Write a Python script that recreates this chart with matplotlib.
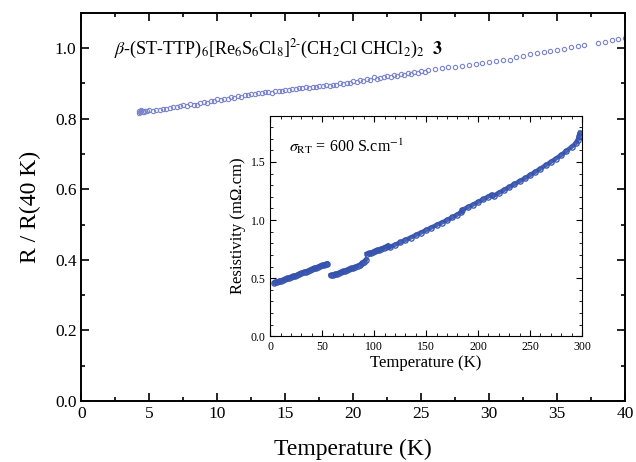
import matplotlib
matplotlib.use("Agg")
import matplotlib.pyplot as plt
from matplotlib.ticker import MultipleLocator

plt.rcParams['font.family'] = ['Liberation Serif', 'DejaVu Serif']
plt.rcParams['mathtext.fontset'] = 'stix'

# Main panel: R / R(40 K) vs T (first sweep)
main_T = [4.2, 4.3, 4.4, 4.5, 4.7, 5.0, 5.5, 6.0, 6.5, 7.0, 7.5, 8.0, 8.5, 9.0, 9.5,
          10.0, 10.5, 11.0, 11.5, 12.0, 12.5, 13.0, 13.5, 14.0, 14.5, 15.0, 15.5,
          16.0, 16.5, 17.0, 17.5, 18.0, 18.5, 19.0, 19.5, 20.0, 20.5, 21.0, 21.5,
          22.0, 22.5, 23.0, 23.5, 24.0, 24.5, 25.0, 25.5, 26.0, 26.5, 27.0, 27.5,
          28.0, 28.5, 29.0, 29.5, 30.0, 30.5, 31.0, 31.5, 32.0, 32.5, 33.0, 33.5,
          34.0, 34.5, 35.0, 35.5, 36.0, 36.5, 37.0, 38.0, 38.5, 39.0, 39.5, 40.0]
main_R = [0.822, 0.818, 0.824, 0.819, 0.823, 0.824, 0.826, 0.829, 0.831, 0.834, 0.838,
          0.841, 0.838, 0.847, 0.851, 0.855, 0.857, 0.862, 0.864, 0.867, 0.871, 0.873,
          0.876, 0.874, 0.880, 0.882, 0.884, 0.887, 0.889, 0.891, 0.893, 0.896, 0.897,
          0.900, 0.902, 0.906, 0.909, 0.914, 0.917, 0.916, 0.920, 0.923, 0.927, 0.929,
          0.932, 0.935, 0.937, 0.940, 0.943, 0.946, 0.948, 0.950, 0.953, 0.955, 0.959,
          0.962, 0.965, 0.968, 0.966, 0.976, 0.979, 0.984, 0.986, 0.990, 0.993, 0.996,
          0.999, 1.003, 1.006, 1.010, 1.016, 1.018, 1.022, 1.025, 1.030]
# Main panel: second, denser sweep at low temperature
main_T2 = [4.25, 4.35, 4.6, 4.8, 5.25, 5.75, 6.25, 6.75, 7.25, 7.75, 8.25, 8.75, 9.25,
           9.75, 10.25, 10.75, 11.25, 11.75, 12.25, 12.75, 13.25, 13.75, 14.25, 14.75,
           15.25, 15.75, 16.25, 16.75, 17.25, 17.75, 18.25, 18.75, 19.25, 19.75, 20.25,
           20.75, 21.25, 21.75, 22.25, 22.75, 23.25, 23.75, 24.25, 24.75, 25.25]
main_R2 = [0.817, 0.821, 0.820, 0.822, 0.823, 0.826, 0.828, 0.832, 0.835, 0.837, 0.840,
           0.844, 0.846, 0.850, 0.853, 0.856, 0.860, 0.863, 0.866, 0.869, 0.872, 0.877,
           0.878, 0.878, 0.881, 0.883, 0.886, 0.888, 0.890, 0.892, 0.894, 0.896, 0.899,
           0.901, 0.903, 0.907, 0.911, 0.913, 0.917, 0.919, 0.922, 0.925, 0.928, 0.931,
           0.933]

# Inset: resistivity vs T
ins_T = [4, 5, 6, 8, 10, 12, 14, 16, 18, 20, 22, 24, 26, 28, 30, 32, 34, 36, 38, 40,
         42, 44, 46, 48, 50, 52, 54, 55,
         58, 60, 62, 64, 66, 68, 70, 72, 74, 76, 78, 80, 82, 84, 86, 88, 90, 92,
         93, 95, 97, 99, 101, 103, 105, 107, 109, 111, 113,
         115, 120, 125, 130, 135, 140, 145, 150, 155, 160, 165, 170, 175, 180, 184,
         185, 190, 195, 200, 205, 210, 213, 215, 220, 225, 230, 235, 240, 245, 250,
         255, 260, 265, 270, 275, 280, 285, 290, 294, 296, 297, 298]
ins_rho = [0.462, 0.465, 0.468, 0.474, 0.480, 0.486, 0.492, 0.498, 0.505, 0.511, 0.517,
           0.523, 0.529, 0.536, 0.543, 0.550, 0.557, 0.564, 0.571, 0.578, 0.585, 0.592,
           0.598, 0.604, 0.610, 0.616, 0.621, 0.624,
           0.525, 0.530, 0.535, 0.540, 0.546, 0.552, 0.558, 0.564, 0.570, 0.577, 0.584,
           0.591, 0.598, 0.606, 0.614, 0.628, 0.642, 0.660,
           0.710, 0.715, 0.720, 0.726, 0.733, 0.740, 0.747, 0.755, 0.762, 0.770, 0.780,
           0.768, 0.788, 0.808, 0.829, 0.850, 0.871, 0.893, 0.914, 0.936, 0.958, 0.979,
           1.000, 1.024, 1.048, 1.070,
           1.090, 1.110, 1.133, 1.156, 1.180, 1.203, 1.220, 1.210, 1.235, 1.260, 1.285,
           1.310, 1.335, 1.360, 1.388, 1.415, 1.443, 1.472, 1.500, 1.530, 1.560, 1.595,
           1.630, 1.660, 1.690, 1.720, 1.750]
ins_segments = [(0, 28), (28, 46), (46, 57), (57, 72), (72, len(ins_T))]

main_color = '#7b84cc'
ins_color = '#3553ad'

fig = plt.figure(figsize=(6.36, 4.62), dpi=100)
ax = fig.add_axes([0.128, 0.132, 0.855, 0.840])
ax.plot(main_T, main_R, 'o', mfc='none', mec=main_color, ms=3.1, mew=0.8)
ax.plot(main_T2, main_R2, 'o', mfc='none', mec=main_color, ms=3.1, mew=0.8)
ax.set_xlim(0, 40)
ax.set_ylim(0, 1.1)
ax.xaxis.set_major_locator(MultipleLocator(5))
ax.xaxis.set_minor_locator(MultipleLocator(2.5))
ax.yaxis.set_major_locator(MultipleLocator(0.2))
ax.yaxis.set_minor_locator(MultipleLocator(0.1))
ax.tick_params(which='both', direction='in', top=True, right=True, labelsize=12.5, width=1.2)
ax.tick_params(which='major', length=6)
ax.tick_params(which='minor', length=3)
ax.yaxis.set_major_formatter(matplotlib.ticker.FormatStrFormatter('%.1f'))
for s in ax.spines.values():
    s.set_linewidth(1.4)
ax.set_xlabel('Temperature (K)', fontsize=17, labelpad=12)
ax.set_ylabel('R / R(40 K)', fontsize=17, labelpad=10)
ax.text(0.06, 0.905,
        r'$\beta$-(ST-TTP)$_6$[Re$_6$S$_6$Cl$_8$]$^{2\text{-}}$(CH$_2$Cl CHCl$_2$)$_2$  $\mathbf{3}$',
        transform=ax.transAxes, fontsize=13, va='center', ha='left')

ins = fig.add_axes([0.425, 0.272, 0.490, 0.478])
for a, b in ins_segments:
    ins.plot(ins_T[a:b], ins_rho[a:b], '-', color=ins_color, lw=3.2, alpha=0.9)
ins.plot(ins_T, ins_rho, 'o', mfc='none', mec=ins_color, ms=3.8, mew=0.9)
ins.set_xlim(0, 300)
ins.set_ylim(0, 1.9)
ins.xaxis.set_major_locator(MultipleLocator(50))
ins.xaxis.set_minor_locator(MultipleLocator(10))
ins.yaxis.set_major_locator(MultipleLocator(0.5))
ins.yaxis.set_minor_locator(MultipleLocator(0.1))
ins.yaxis.set_major_formatter(matplotlib.ticker.FormatStrFormatter('%.1f'))
ins.tick_params(which='both', direction='in', top=True, right=True, labelsize=8.5)
ins.tick_params(which='major', length=4)
ins.tick_params(which='minor', length=2)
ins.set_xlabel('Temperature (K)', fontsize=12, labelpad=1)
ins.set_ylabel('Resistivity (m\u03a9.cm)', fontsize=12, labelpad=3)
ins.text(0.06, 0.86, r'$\sigma_{\mathrm{RT}}$ = 600 S.cm$^{\mathrm{-1}}$',
         transform=ins.transAxes, fontsize=11.5, ha='left', va='center')

fig.savefig('out.png', dpi=100)
